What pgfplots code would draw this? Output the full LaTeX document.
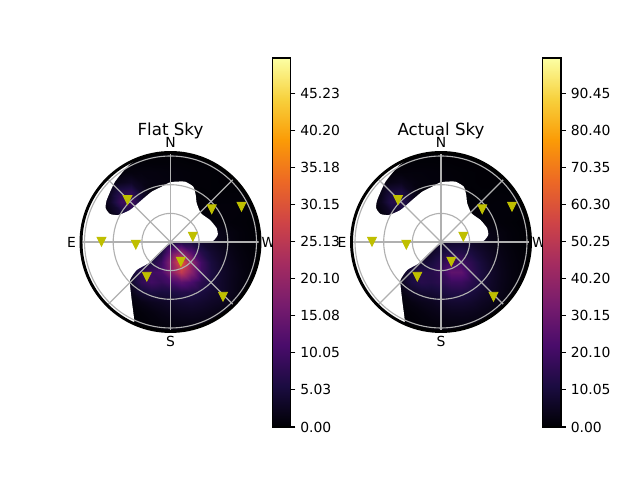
\documentclass[border=0pt]{standalone}
\usepackage{fontspec}
\setmainfont{DejaVu Sans}
\usepackage{pgfplots}
\pgfplotsset{compat=1.18}
\definecolor{gridc}{RGB}{176,176,176}
\definecolor{mk}{RGB}{191,191,0}
\pgfdeclareplotmark{vtri}{%
  \pgfpathmoveto{\pgfqpoint{-3.2pt}{3.2pt}}%
  \pgfpathlineto{\pgfqpoint{3.2pt}{3.2pt}}%
  \pgfpathlineto{\pgfqpoint{0pt}{-3.2pt}}%
  \pgfpathclose\pgfusepathqfillstroke}
\pgfplotsset{
  colormap={inferno}{rgb255=(0,0,4) rgb255=(27,12,65) rgb255=(74,12,107) rgb255=(120,28,109) rgb255=(165,44,96) rgb255=(207,68,70) rgb255=(237,105,37) rgb255=(251,155,6) rgb255=(247,209,61) rgb255=(252,255,164)},
  skyaxis/.style={
    scale only axis, width=131.04pt, height=131.04pt,
    xmin=-91, xmax=91, ymin=-91, ymax=91, clip mode=individual,
    axis line style={draw=none}, xtick=\empty, ytick=\empty,
    colormap name=inferno,
    title style={font=\fontsize{12}{14}\selectfont, at={(axis description cs:0.5,1.039)}, anchor=base},
    colorbar,
  },
  cbstyle/.style={
    at={(1.058,-0.5165)}, anchor=south west,
    width=13.3pt, height=265.7pt, scale only axis,
    ytick pos=right, yticklabel pos=right, tick align=outside,
    major tick length=3.5pt,
    tick style={black, line width=.8pt},
    axis line style={line width=.8pt},
    yticklabel style={font=\fontsize{10}{12}\selectfont, xshift=0pt},
    #1
  },
}
\newcommand{\skyoverlay}{%
  \draw[white, line width=28.8pt] (axis cs:0,0) circle[radius=110];
  \addplot[fill=white, draw=none, smooth, tension=0.35, forget plot] coordinates {
    (-30,85)(-42,76.5)(-55.5,60.3)(-63.8,42)(-64.8,33.7)(-60.5,28)(-52.2,27)(-40.5,32)(-28.8,42)(-18.8,50.3)(-8.8,55.3)(-1.5,59.3)
    (4.5,60.3)(14.5,60.3)(22.8,55.3)(25.2,47)(26.2,38.7)(30.5,28.7)(39.5,22)(46.2,13.7)(47.2,7)(42.8,1.3)(34.5,-0.7)(21.2,-0.7)(7.8,0.3)(1.2,-0.7)
    (-12.2,-11.3)(-22.2,-21.3)(-33.8,-28)(-40.5,-38)(-39.8,-49.7)(-38.2,-63)(-36.5,-76.3)(-37,-81)
    (-50,-73.6)(-63,-63)(-74,-49.5)(-83,-32)(-88,-13.5)(-88,13.5)(-83,32)(-74,49.5)(-63,63)(-50,73.6)(-40,79.5)(-30,85)
  };
  \addplot[gridc, line width=.8pt, forget plot] coordinates {(-89,0)(89,0)};
  \addplot[gridc, line width=.8pt, forget plot] coordinates {(0,-89)(0,89)};
  \addplot[gridc, line width=.8pt, forget plot] coordinates {(-62.5,-62.5)(62.5,62.5)};
  \addplot[gridc, line width=.8pt, forget plot] coordinates {(-62.5,62.5)(62.5,-62.5)};
  \draw[gridc, line width=.8pt] (axis cs:0,0) circle[radius=28.6];
  \draw[gridc, line width=.8pt] (axis cs:0,0) circle[radius=57.3];
  \draw[gridc, line width=.8pt] (axis cs:0,0) circle[radius=86];
  \draw[black, line width=2.1pt] (axis cs:0,0) circle[radius=89.5];
  \addplot[only marks, mark=vtri, mark options={fill=mk, draw=mk, line width=.6pt}, forget plot] coordinates {
    (-43,42)(71,35.3)(41.2,32.7)(22.3,5.3)(-69,0.3)(-34.7,-2.7)(10.3,-19.7)(-23.7,-34.7)(52.5,-54.7)};
  \node[font=\fontsize{10}{12}\selectfont] at (axis cs:0,100) {N};
  \node[font=\fontsize{10}{12}\selectfont] at (axis cs:0,-99) {S};
  \node[font=\fontsize{10}{12}\selectfont] at (axis cs:-99,0) {E};
  \node[font=\fontsize{10}{12}\selectfont] at (axis cs:98,0) {W};
}
\begin{document}
\begin{tikzpicture}
\useasboundingbox (0,0) rectangle (460.8pt,345.6pt);
% ---- right panel first
\begin{axis}[skyaxis, at={(252pt,105.84pt)}, anchor=south west, title={Actual Sky},
  point meta min=0, point meta max=100,
  colorbar style={cbstyle={ytick={0,10.05,20.10,30.15,40.20,50.25,60.30,70.35,80.40,90.45},
    yticklabels={0.00,10.05,20.10,30.15,40.20,50.25,60.30,70.35,80.40,90.45}}}]
\addplot[surf, shader=interp, mesh/rows=19, point meta=\thisrow{c}, forget plot] table[row sep=\\] {
x y c\\
-90 -90 0\\-80 -90 0\\-70 -90 0\\-60 -90 0\\-50 -90 .1\\-40 -90 .2\\-30 -90 .35\\-20 -90 .6\\-10 -90 .9\\0 -90 1.2\\10 -90 1.4\\20 -90 1.5\\30 -90 1.3\\40 -90 1.05\\50 -90 .8\\60 -90 .5\\70 -90 .3\\80 -90 .15\\90 -90 0\\
-90 -80 0\\-80 -80 0\\-70 -80 0\\-60 -80 .1\\-50 -80 .2\\-40 -80 .35\\-30 -80 .7\\-20 -80 1.2\\-10 -80 1.75\\0 -80 2.4\\10 -80 2.8\\20 -80 2.85\\30 -80 2.65\\40 -80 2.1\\50 -80 1.55\\60 -80 1\\70 -80 .5\\80 -80 .3\\90 -80 .07\\
-90 -70 0\\-80 -70 0\\-70 -70 .1\\-60 -70 .2\\-50 -70 .4\\-40 -70 .6\\-30 -70 1.2\\-20 -70 2\\-10 -70 3.1\\0 -70 4.1\\10 -70 4.85\\20 -70 5\\30 -70 4.55\\40 -70 3.7\\50 -70 2.6\\60 -70 1.6\\70 -70 .9\\80 -70 .4\\90 -70 .15\\
-90 -60 0\\-80 -60 0\\-70 -60 .1\\-60 -60 .3\\-50 -60 .5\\-40 -60 1.2\\-30 -60 2.55\\-20 -60 4\\-10 -60 5\\0 -60 6.5\\10 -60 8\\20 -60 8.1\\30 -60 7.3\\40 -60 5.6\\50 -60 4.3\\60 -60 2.7\\70 -60 1.3\\80 -60 .6\\90 -60 .3\\
-90 -50 0\\-80 -50 0\\-70 -50 .1\\-60 -50 .3\\-50 -50 .5\\-40 -50 2.7\\-30 -50 6.2\\-20 -50 8.25\\-10 -50 8.7\\0 -50 10.3\\10 -50 12.4\\20 -50 12.7\\30 -50 10.6\\40 -50 7.9\\50 -50 5.7\\60 -50 3.6\\70 -50 1.8\\80 -50 .9\\90 -50 .35\\
-90 -40 0\\-80 -40 0\\-70 -40 .1\\-60 -40 .4\\-50 -40 1.2\\-40 -40 4.7\\-30 -40 10.9\\-20 -40 13.8\\-10 -40 13\\0 -40 14.8\\10 -40 18.5\\20 -40 18.6\\30 -40 14.6\\40 -40 10\\50 -40 6.5\\60 -40 3.9\\70 -40 2.2\\80 -40 1.05\\90 -40 .4\\
-90 -30 0\\-80 -30 0\\-70 -30 .1\\-60 -30 .4\\-50 -30 1\\-40 -30 4.5\\-30 -30 10.3\\-20 -30 13.6\\-10 -30 13.5\\0 -30 17.2\\10 -30 27\\20 -30 27\\30 -30 16.7\\40 -30 10.8\\50 -30 6.9\\60 -30 4.1\\70 -30 2.2\\80 -30 1.05\\90 -30 .5\\
-90 -20 0\\-80 -20 0\\-70 -20 .1\\-60 -20 .3\\-50 -20 .8\\-40 -20 2.5\\-30 -20 5.7\\-20 -20 8.1\\-10 -20 10.3\\0 -20 14.8\\10 -20 20\\20 -20 19.7\\30 -20 14.9\\40 -20 9.7\\50 -20 6.1\\60 -20 3.7\\70 -20 2\\80 -20 .98\\90 -20 .4\\
-90 -10 0\\-80 -10 0\\-70 -10 0\\-60 -10 .2\\-50 -10 .5\\-40 -10 1\\-30 -10 2.1\\-20 -10 3.9\\-10 -10 6.4\\0 -10 10\\10 -10 13\\20 -10 13.1\\30 -10 10.5\\40 -10 7.4\\50 -10 4.9\\60 -10 3\\70 -10 1.7\\80 -10 .76\\90 -10 .35\\
-90 0 0\\-80 0 0\\-70 0 0\\-60 0 .1\\-50 0 .4\\-40 0 .8\\-30 0 1.6\\-20 0 2.6\\-10 0 4.2\\0 0 6\\10 0 7.4\\20 0 7.7\\30 0 6.5\\40 0 5\\50 0 3.4\\60 0 2.2\\70 0 1.1\\80 0 .55\\90 0 .3\\
-90 10 0\\-80 10 0\\-70 10 0\\-60 10 0\\-50 10 .2\\-40 10 .6\\-30 10 1.3\\-20 10 2.3\\-10 10 3.6\\0 10 4.7\\10 10 5.6\\20 10 5.9\\30 10 5.4\\40 10 4.3\\50 10 3\\60 10 1.8\\70 10 1\\80 10 .5\\90 10 .2\\
-90 20 0\\-80 20 0\\-70 20 .1\\-60 20 .6\\-50 20 1.5\\-40 20 1.6\\-30 20 .7\\-20 20 .3\\-10 20 .4\\0 20 .5\\10 20 .6\\20 20 .8\\30 20 1\\40 20 1.2\\50 20 1.1\\60 20 .9\\70 20 .6\\80 20 .3\\90 20 .1\\
-90 30 0\\-80 30 0\\-70 30 .4\\-60 30 2.6\\-50 30 7.1\\-40 30 7.7\\-30 30 3.3\\-20 30 .6\\-10 30 .3\\0 30 .3\\10 30 .4\\20 30 .5\\30 30 .7\\40 30 .9\\50 30 1\\60 30 1\\70 30 .9\\80 30 .5\\90 30 .2\\
-90 40 0\\-80 40 0\\-70 40 .7\\-60 40 4.8\\-50 40 13.3\\-40 40 14.5\\-30 40 6.4\\-20 40 1.2\\-10 40 .4\\0 40 .3\\10 40 .3\\20 40 .5\\30 40 .6\\40 40 .7\\50 40 .8\\60 40 .9\\70 40 .8\\80 40 .5\\90 40 .2\\
-90 50 0\\-80 50 0\\-70 50 .6\\-60 50 3.7\\-50 50 10.2\\-40 50 11.2\\-30 50 4.9\\-20 50 1.3\\-10 50 1\\0 50 .8\\10 50 .5\\20 50 .4\\30 50 .4\\40 50 .5\\50 50 .5\\60 50 .6\\70 50 .5\\80 50 .2\\90 50 0\\
-90 60 0\\-80 60 0\\-70 60 .2\\-60 60 1.2\\-50 60 3.2\\-40 60 4.4\\-30 60 2.6\\-20 60 1.7\\-10 60 1.4\\0 60 1.2\\10 60 1\\20 60 .7\\30 60 .5\\40 60 .4\\50 60 .4\\60 60 .3\\70 60 .2\\80 60 0\\90 60 0\\
-90 70 0\\-80 70 0\\-70 70 0\\-60 70 .3\\-50 70 .9\\-40 70 1.3\\-30 70 1.4\\-20 70 1.4\\-10 70 1.3\\0 70 1.1\\10 70 .8\\20 70 .6\\30 70 .5\\40 70 .4\\50 70 .3\\60 70 .2\\70 70 0\\80 70 0\\90 70 0\\
-90 80 0\\-80 80 0\\-70 80 0\\-60 80 0\\-50 80 .2\\-40 80 .4\\-30 80 .6\\-20 80 .6\\-10 80 .6\\0 80 .5\\10 80 .4\\20 80 .3\\30 80 .2\\40 80 .1\\50 80 .1\\60 80 0\\70 80 0\\80 80 0\\90 80 0\\
-90 90 0\\-80 90 0\\-70 90 0\\-60 90 0\\-50 90 0\\-40 90 .1\\-30 90 .2\\-20 90 .2\\-10 90 .2\\0 90 .2\\10 90 .1\\20 90 .1\\30 90 .1\\40 90 0\\50 90 0\\60 90 0\\70 90 0\\80 90 0\\90 90 0\\
};
\skyoverlay
\end{axis}
% ---- left panel
\begin{axis}[skyaxis, at={(57.24pt,105.84pt)}, anchor=south west, title={Flat Sky},
  point meta min=0, point meta max=50,
  colorbar style={cbstyle={ytick={0,5.03,10.05,15.08,20.10,25.13,30.15,35.18,40.20,45.23},
    yticklabels={0.00,5.03,10.05,15.08,20.10,25.13,30.15,35.18,40.20,45.23}}}]
\addplot[surf, shader=interp, mesh/rows=19, point meta=\thisrow{c}, forget plot] table[row sep=\\] {
x y c\\
-90 -90 0\\-80 -90 0\\-70 -90 0\\-60 -90 0\\-50 -90 .1\\-40 -90 .1\\-30 -90 .2\\-20 -90 .33\\-10 -90 .5\\0 -90 .67\\10 -90 .78\\20 -90 .82\\30 -90 .75\\40 -90 .6\\50 -90 .42\\60 -90 .27\\70 -90 .14\\80 -90 .07\\90 -90 0\\
-90 -80 0\\-80 -80 0\\-70 -80 0\\-60 -80 .1\\-50 -80 .15\\-40 -80 .19\\-30 -80 .37\\-20 -80 .64\\-10 -80 .98\\0 -80 1.3\\10 -80 1.54\\20 -80 1.6\\30 -80 1.47\\40 -80 1.18\\50 -80 .84\\60 -80 .53\\70 -80 .29\\80 -80 .14\\90 -80 .07\\
-90 -70 0\\-80 -70 0\\-70 -70 .1\\-60 -70 .15\\-50 -70 .25\\-40 -70 .33\\-30 -70 .64\\-20 -70 1.1\\-10 -70 1.7\\0 -70 2.27\\10 -70 2.67\\20 -70 2.79\\30 -70 2.54\\40 -70 2.04\\50 -70 1.45\\60 -70 .9\\70 -70 .5\\80 -70 .24\\90 -70 .07\\
-90 -60 0\\-80 -60 0\\-70 -60 .1\\-60 -60 .2\\-50 -60 .3\\-40 -60 .8\\-30 -60 1.6\\-20 -60 2.4\\-10 -60 2.9\\0 -60 3.5\\10 -60 4.05\\20 -60 4.3\\30 -60 3.85\\40 -60 3.16\\50 -60 2.65\\60 -60 1.6\\70 -60 .8\\80 -60 .35\\90 -60 .13\\
-90 -50 0\\-80 -50 0\\-70 -50 .1\\-60 -50 .2\\-50 -50 .4\\-40 -50 1.9\\-30 -50 4.3\\-20 -50 5.6\\-10 -50 5.2\\0 -50 5.6\\10 -50 6.6\\20 -50 6.4\\30 -50 5.4\\40 -50 4.2\\50 -50 3.5\\60 -50 2.2\\70 -50 1.07\\80 -50 .5\\90 -50 .2\\
-90 -40 0\\-80 -40 0\\-70 -40 .1\\-60 -40 .3\\-50 -40 .9\\-40 -40 3.4\\-30 -40 8\\-20 -40 9.9\\-10 -40 8.7\\0 -40 10.6\\10 -40 13.1\\20 -40 11.1\\30 -40 7.4\\40 -40 5.1\\50 -40 3.5\\60 -40 2.2\\70 -40 1.2\\80 -40 .55\\90 -40 .3\\
-90 -30 0\\-80 -30 0\\-70 -30 .1\\-60 -30 .3\\-50 -30 .9\\-40 -30 3.25\\-30 -30 7.5\\-20 -30 9.7\\-10 -30 10.8\\0 -30 18.2\\10 -30 26\\20 -30 18.9\\30 -30 9.8\\40 -30 5.6\\50 -30 3.6\\60 -30 2.3\\70 -30 1.3\\80 -30 .6\\90 -30 .3\\
-90 -20 0\\-80 -20 0\\-70 -20 .1\\-60 -20 .2\\-50 -20 .5\\-40 -20 1.7\\-30 -20 3.9\\-20 -20 5.6\\-10 -20 9.1\\0 -20 19.5\\10 -20 31\\20 -20 20.4\\30 -20 9.9\\40 -20 5.2\\50 -20 3.3\\60 -20 2.1\\70 -20 1.1\\80 -20 .57\\90 -20 .2\\
-90 -10 0\\-80 -10 0\\-70 -10 0\\-60 -10 .1\\-50 -10 .3\\-40 -10 .65\\-30 -10 1.2\\-20 -10 2.3\\-10 -10 5.2\\0 -10 14\\10 -10 19\\20 -10 12.3\\30 -10 6.8\\40 -10 4.1\\50 -10 2.7\\60 -10 1.7\\70 -10 .9\\80 -10 .4\\90 -10 .2\\
-90 0 0\\-80 0 0\\-70 0 0\\-60 0 0\\-50 0 .2\\-40 0 .45\\-30 0 .9\\-20 0 1.5\\-10 0 2.6\\0 0 4.6\\10 0 6\\20 0 5.2\\30 0 3.8\\40 0 2.8\\50 0 1.9\\60 0 1.2\\70 0 .6\\80 0 .35\\90 0 .15\\
-90 10 0\\-80 10 0\\-70 10 0\\-60 10 0\\-50 10 .1\\-40 10 .38\\-30 10 .75\\-20 10 1.3\\-10 10 2\\0 10 2.6\\10 10 3.1\\20 10 3.3\\30 10 3\\40 10 2.4\\50 10 1.7\\60 10 1\\70 10 .6\\80 10 .3\\90 10 .1\\
-90 20 0\\-80 20 0\\-70 20 .1\\-60 20 .4\\-50 20 1\\-40 20 1.1\\-30 20 .5\\-20 20 .2\\-10 20 .3\\0 20 .3\\10 20 .4\\20 20 .5\\30 20 .6\\40 20 .7\\50 20 .6\\60 20 .5\\70 20 .4\\80 20 .2\\90 20 .1\\
-90 30 0\\-80 30 0\\-70 30 .3\\-60 30 1.8\\-50 30 4.9\\-40 30 5.3\\-30 30 2.3\\-20 30 .4\\-10 30 .2\\0 30 .2\\10 30 .2\\20 30 .3\\30 30 .4\\40 30 .5\\50 30 .6\\60 30 .6\\70 30 .5\\80 30 .3\\90 30 .1\\
-90 40 0\\-80 40 0\\-70 40 .5\\-60 40 3.3\\-50 40 9.2\\-40 40 10\\-30 40 4.4\\-20 40 .8\\-10 40 .3\\0 40 .2\\10 40 .2\\20 40 .3\\30 40 .4\\40 40 .4\\50 40 .5\\60 40 .5\\70 40 .5\\80 40 .3\\90 40 .1\\
-90 50 0\\-80 50 0\\-70 50 .4\\-60 50 2.6\\-50 50 7\\-40 50 7.7\\-30 50 3.4\\-20 50 .9\\-10 50 .7\\0 50 .6\\10 50 .3\\20 50 .2\\30 50 .2\\40 50 .3\\50 50 .3\\60 50 .3\\70 50 .3\\80 50 .1\\90 50 0\\
-90 60 0\\-80 60 0\\-70 60 .1\\-60 60 .8\\-50 60 2.2\\-40 60 3\\-30 60 1.8\\-20 60 1.2\\-10 60 1\\0 60 .9\\10 60 .7\\20 60 .5\\30 60 .4\\40 60 .3\\50 60 .2\\60 60 .2\\70 60 .1\\80 60 0\\90 60 0\\
-90 70 0\\-80 70 0\\-70 70 0\\-60 70 .2\\-50 70 .6\\-40 70 .9\\-30 70 1\\-20 70 1\\-10 70 .9\\0 70 .8\\10 70 .6\\20 70 .5\\30 70 .4\\40 70 .3\\50 70 .2\\60 70 .1\\70 70 0\\80 70 0\\90 70 0\\
-90 80 0\\-80 80 0\\-70 80 0\\-60 80 0\\-50 80 .1\\-40 80 .3\\-30 80 .4\\-20 80 .4\\-10 80 .4\\0 80 .4\\10 80 .3\\20 80 .2\\30 80 .2\\40 80 .1\\50 80 .1\\60 80 0\\70 80 0\\80 80 0\\90 80 0\\
-90 90 0\\-80 90 0\\-70 90 0\\-60 90 0\\-50 90 0\\-40 90 .1\\-30 90 .1\\-20 90 .2\\-10 90 .2\\0 90 .2\\10 90 .1\\20 90 .1\\30 90 .1\\40 90 0\\50 90 0\\60 90 0\\70 90 0\\80 90 0\\90 90 0\\
};
\skyoverlay
\end{axis}
\end{tikzpicture}
\end{document}
